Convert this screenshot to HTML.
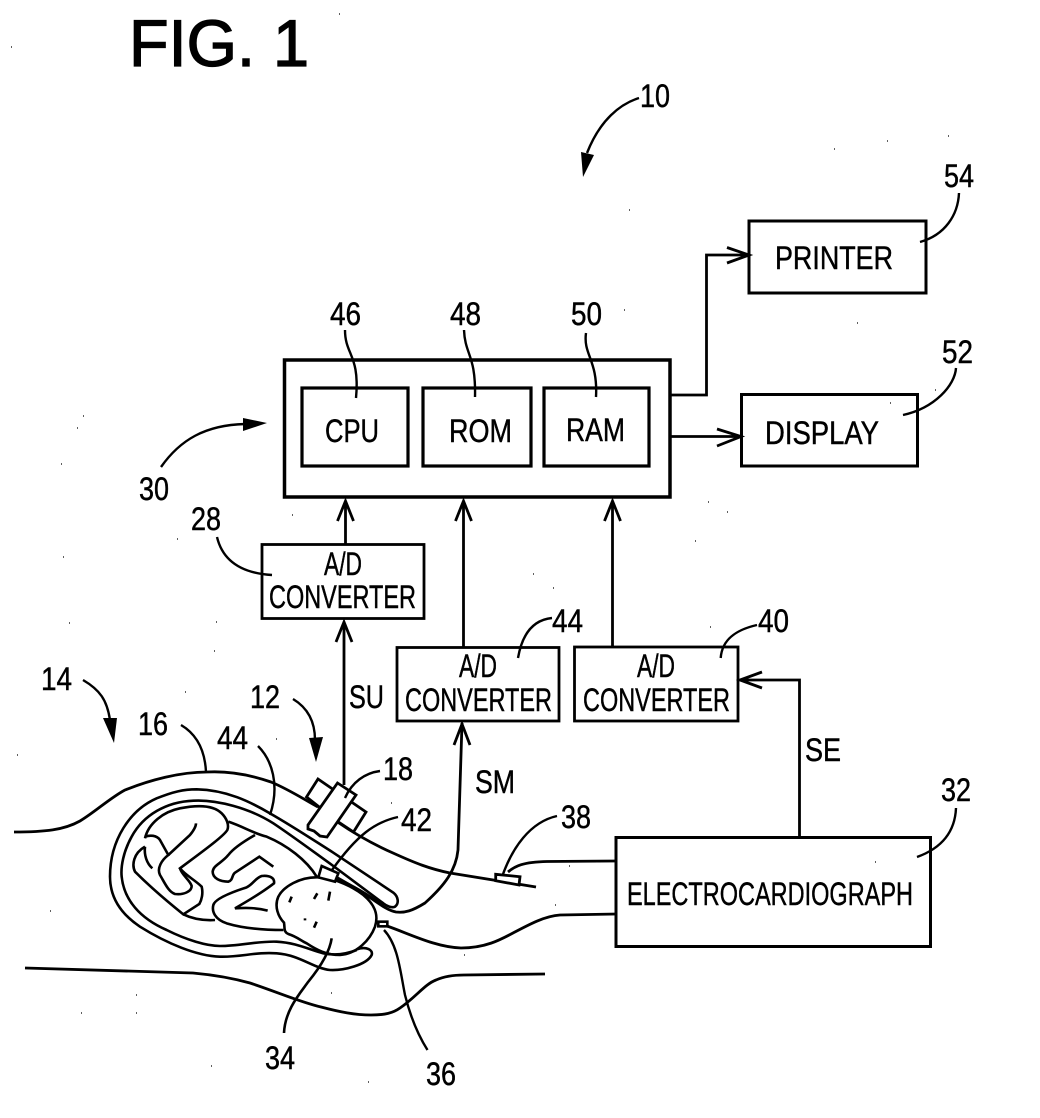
<!DOCTYPE html>
<html><head><meta charset="utf-8"><title>FIG. 1</title>
<style>
html,body{margin:0;padding:0;background:#fff;width:1040px;height:1118px;overflow:hidden}
svg{display:block}
text{font-family:"Liberation Sans",sans-serif;font-size:32px;fill:#000;stroke:#000;stroke-width:.45px}
</style></head><body>
<svg width="1040" height="1118" viewBox="0 0 1040 1118" xmlns="http://www.w3.org/2000/svg">
<g fill="none" stroke="#000" stroke-width="2.8">
<!-- boxes -->
<rect x="284.5" y="360" width="385.5" height="137" stroke-width="3.5"/>
<rect x="302" y="388" width="106" height="78" stroke-width="3.2"/>
<rect x="423" y="388" width="108" height="78" stroke-width="3.2"/>
<rect x="544" y="388" width="105" height="78" stroke-width="3.2"/>
<rect x="262" y="544.5" width="162" height="74" stroke-width="2.8"/>
<rect x="397" y="647.5" width="162" height="73.5" stroke-width="2.8"/>
<rect x="574.5" y="647" width="163.5" height="74" stroke-width="2.8"/>
<rect x="749" y="221" width="177" height="72" stroke-width="3"/>
<rect x="741.5" y="394.5" width="176" height="71.5" stroke-width="3"/>
<rect x="616" y="837.5" width="314.5" height="109" stroke-width="3"/>
<!-- wires -->
<path d="M345.5 544V501M337.5 521L345.5 501L353.5 521"/>
<path d="M344 785V622M336 642L344 622L352 642"/>
<path d="M463.5 647V501M455.5 521L463.5 501L471.5 521"/>
<path d="M612.5 646V501M604.5 521L612.5 501L620.5 521"/>
<path d="M670 395H706.5V255H749M727 247.500L749 255L727 263"/>
<path d="M670 436.500H741M717 429L741 436.500L717 446"/>
<path d="M799.500 837V680H740M762 672L740 680L762 688"/>
<path d="M454 745L462 724L470 745"/>
<path d="M462 723L458 850C456 870 445 885 425 903C412 911 405 913 396 912C385 910 375 900 357 889L336 877"/>
<path d="M508 872C515 866 523 862 547 861.500L615 861"/>
<path d="M387 926C410 934 435 947 461 948C485 948 500 940 513 933C530 924 545 916 560 915L617 914"/>
<!-- body -->
<path d="M14 832C45 832 64 830 80 821C95 812 110 798 125 790C150 780 180 772 207 772C225 771 245 773 271 782C290 790 305 800 318 807"/>
<path d="M337.500 822C355 834 375 845 393 853C415 863 430 869 450 873L536 887"/>
<path d="M25 968L193 973C215 975 232 978 250 983C280 993 300 1002 321 1007C340 1012 355 1015 371 1015C385 1015 393 1013 400 1008C415 998 425 984 436 980C445 976 455 975 464 975L545 974"/>
<!-- probe 18 -->
<path d="M318 779L366 812L353.500 832L337 821L306.500 797Z" fill="#fff"/>
<path d="M337.500 783L356 795L327 837L320 836L314 831L308 829L308 825Z" fill="#fff"/>
<!-- leaders -->
<g stroke-width="2.4">
<path d="M639 98C620 104 600 120 587 153"/>
<path d="M959 193C958 215 945 235 920 242"/>
<path d="M956 368C955 385 935 408 903 415"/>
<path d="M345 330C345 355 360 355 356 398"/>
<path d="M464 330C465 355 476 355 475 397"/>
<path d="M586 333C583 355 598 360 596 397"/>
<path d="M161 467C180 440 205 425 245 424"/>
<path d="M217 537C222 558 238 573 272 575"/>
<path d="M552 618C532 620 522 635 518 658"/>
<path d="M757 625C735 630 722 640 720.700 658"/>
<path d="M83 680C100 690 107 700 110 720"/>
<path d="M293 699C308 708 315 722 315 740"/>
<path d="M181 725C198 735 205 752 206 772"/>
<path d="M258 746C272 760 280 785 270 815"/>
<path d="M380 771C365 773 352 782 345 798"/>
<path d="M398 817C375 822 357 835 332 870"/>
<path d="M557 816C530 822 512 848 502 877"/>
<path d="M956 808C955 832 942 848 917 857"/>
<path d="M384 930C398 945 400 970 405 995C410 1015 418 1035 427.500 1050"/>
</g>
<!-- fetus, 3x coordinates -->
<g transform="translate(100 780) scale(0.33333)" stroke-width="7.800">
<path d="M770 508C800 498 820 510 815 525C800 555 730 572 690 570C640 565 600 525 530 520C470 515 420 532 360 530C290 528 200 490 120 440C60 400 30 350 30 290C30 180 90 90 170 55C220 35 250 28 290 28C380 30 450 65 510 100C580 140 640 180 700 218L880 338C895 350 898 370 885 380C875 385 860 378 850 370L700 258C640 215 580 170 520 130C450 85 350 58 280 62C200 65 130 105 95 170C70 215 62 260 65 290C72 360 120 415 200 450C260 480 320 498 360 498C420 498 470 483 530 485C590 488 630 510 670 520C710 528 745 520 770 510"/>
<path d="M135 175C145 130 190 95 240 85C290 75 340 75 365 100C380 115 388 135 382 150C370 170 300 220 240 265C255 285 285 300 305 320C310 340 305 360 298 372L250 403C190 355 140 310 105 275C95 255 100 220 135 200"/>
<path d="M250 403C280 418 310 422 345 420"/>
<path d="M385 125C430 140 460 160 500 170C560 195 620 240 650 290"/>
<path d="M135 170C150 165 170 165 180 180L205 225C185 240 170 265 180 285C195 310 205 335 225 342C250 345 275 335 275 318C270 300 245 285 240 265"/>
<path d="M135 200C132 225 140 250 157 265M205 225L270 165C282 150 288 140 288 130"/>
<path d="M465 165C430 185 400 205 385 225C365 250 340 255 338 275C338 295 360 305 385 305C400 300 395 285 405 278L478 230L520 260"/>
<path d="M550 450C480 450 420 442 380 430C345 418 335 395 340 375C345 355 400 335 440 322C460 312 465 295 485 288C510 285 525 295 522 310C490 335 440 365 405 385C440 383 470 383 503 392"/>
<path d="M655 292C600 290 550 320 535 350C522 380 535 410 552 428C555 445 550 455 565 462C590 470 600 480 620 490C650 510 680 525 720 525C770 522 810 480 825 440C838 400 820 370 790 345C760 322 710 295 655 292"/>
<path d="M705 295C750 312 800 340 850 378"/>
<path d="M665 258L715 280L705 305L655 292Z" fill="#fff"/>
<path d="M575 350L568 367M652 340L642 357M690 335L685 362M615 415V421M650 425L642 443"/>
<path d="M695 475C690 510 670 550 625 605C600 640 555 690 552 759"/>
<rect x="835" y="425" width="27" height="14" fill="#fff"/>
</g>
<path d="M495.700 874.300L520 876.700L519 885L495.700 880.700Z" fill="#fff"/>
</g>
<!-- solid heads -->
<g fill="#000">
<polygon points="581,152 594,155 583,177"/>
<polygon points="243,418 243,431 267,423"/>
<polygon points="103,718 117,718 114,743"/>
<polygon points="309,738 323,737 316,762"/>
</g>
<!-- speckles -->
<path fill="none" stroke="#000" stroke-width="1.200" d="M83 416h1M77 428h1M61 464h1M63 557h1M69 623h1M216 622h1M214 651h1M177 539h1M292 515h1M185 692h1M276 739h1M17 755h1M948 136h1M887 141h1M834 149h1M629 210h1M624 310h1M857 323h1M935 390h1M890 403h1M708 502h1M727 512h1M695 541h1M533 574h1M553 588h1M710 627h1M50 911h1M136 995h1M81 1013h1M136 1013h1M211 1066h1M331 993h1M464 955h1M368 1082h1M391 803h1M11 47h1M339 14h1M569 866h1M555 905h1M875 862h1"/>
<!-- labels -->
<text x="129" y="66" style="font-size:66px;stroke-width:1.3px" textLength="180" lengthAdjust="spacingAndGlyphs">FIG. 1</text>
<text x="640" y="107" textLength="30" lengthAdjust="spacingAndGlyphs">10</text>
<text x="944" y="187" textLength="30" lengthAdjust="spacingAndGlyphs">54</text>
<text x="942" y="363" textLength="31" lengthAdjust="spacingAndGlyphs">52</text>
<text x="330" y="325" textLength="31" lengthAdjust="spacingAndGlyphs">46</text>
<text x="450" y="325" textLength="31" lengthAdjust="spacingAndGlyphs">48</text>
<text x="571" y="325" textLength="31" lengthAdjust="spacingAndGlyphs">50</text>
<text x="139" y="500" textLength="30" lengthAdjust="spacingAndGlyphs">30</text>
<text x="191" y="530" textLength="30" lengthAdjust="spacingAndGlyphs">28</text>
<text x="41" y="690" textLength="31" lengthAdjust="spacingAndGlyphs">14</text>
<text x="250" y="708" textLength="30" lengthAdjust="spacingAndGlyphs">12</text>
<text x="138" y="735" textLength="30" lengthAdjust="spacingAndGlyphs">16</text>
<text x="217" y="749" textLength="31" lengthAdjust="spacingAndGlyphs">44</text>
<text x="383" y="780" textLength="30" lengthAdjust="spacingAndGlyphs">18</text>
<text x="401" y="831" textLength="31" lengthAdjust="spacingAndGlyphs">42</text>
<text x="265" y="1069" textLength="30" lengthAdjust="spacingAndGlyphs">34</text>
<text x="426" y="1085" textLength="30" lengthAdjust="spacingAndGlyphs">36</text>
<text x="561" y="828" textLength="30" lengthAdjust="spacingAndGlyphs">38</text>
<text x="941" y="801" textLength="30" lengthAdjust="spacingAndGlyphs">32</text>
<text x="552" y="632" textLength="31" lengthAdjust="spacingAndGlyphs">44</text>
<text x="758" y="632" textLength="31" lengthAdjust="spacingAndGlyphs">40</text>
<text x="349" y="708" textLength="35" lengthAdjust="spacingAndGlyphs">SU</text>
<text x="475" y="793" textLength="40" lengthAdjust="spacingAndGlyphs">SM</text>
<text x="805" y="761" textLength="36" lengthAdjust="spacingAndGlyphs">SE</text>
<text x="325" y="442" textLength="54" lengthAdjust="spacingAndGlyphs">CPU</text>
<text x="449" y="442" textLength="63" lengthAdjust="spacingAndGlyphs">ROM</text>
<text x="566" y="441" textLength="59" lengthAdjust="spacingAndGlyphs">RAM</text>
<text x="324" y="575" textLength="38" lengthAdjust="spacingAndGlyphs">A/D</text>
<text x="269" y="608" textLength="147" lengthAdjust="spacingAndGlyphs">CONVERTER</text>
<text x="459" y="677" textLength="38" lengthAdjust="spacingAndGlyphs">A/D</text>
<text x="405" y="711" textLength="147" lengthAdjust="spacingAndGlyphs">CONVERTER</text>
<text x="637" y="677" textLength="38" lengthAdjust="spacingAndGlyphs">A/D</text>
<text x="583" y="711" textLength="147" lengthAdjust="spacingAndGlyphs">CONVERTER</text>
<text x="775" y="269" textLength="118" lengthAdjust="spacingAndGlyphs">PRINTER</text>
<text x="765" y="444" textLength="114" lengthAdjust="spacingAndGlyphs">DISPLAY</text>
<text x="627" y="905" textLength="286" lengthAdjust="spacingAndGlyphs">ELECTROCARDIOGRAPH</text>
</svg>
</body></html>
